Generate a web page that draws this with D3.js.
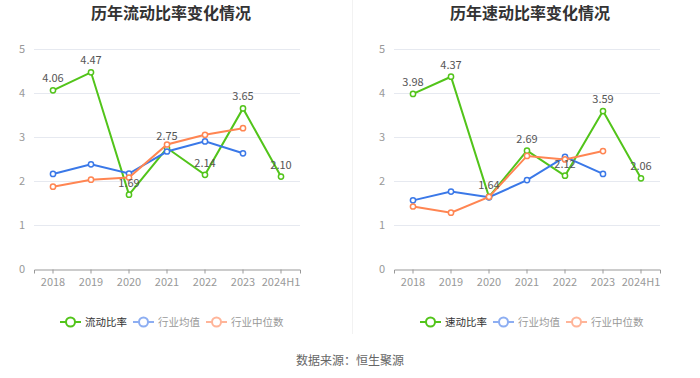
<!DOCTYPE html>
<html>
<head>
<meta charset="utf-8">
<script src="https://cdn.jsdelivr.net/npm/d3@7"></script>
<style>
  body { margin: 0; background: #fff; }
  svg { font-family: "Noto Sans CJK SC", "Noto Sans", sans-serif; }
</style>
</head>
<body>
<div id="chart"></div>
<script>
const years = ['2018', '2019', '2020', '2021', '2022', '2023', '2024H1'];
const yTicks = [0, 1, 2, 3, 4, 5];

// 流动比率
const currentRatio = [4.06, 4.47, 1.69, 2.75, 2.14, 3.65, 2.10];
const currentAvg = [2.16, 2.38, 2.17, 2.67, 2.90, 2.63];
const currentMedian = [1.87, 2.03, 2.08, 2.83, 3.05, 3.20];

// 速动比率
const quickRatio = [3.98, 4.37, 1.64, 2.69, 2.12, 3.59, 2.06];
const quickAvg = [1.56, 1.76, 1.63, 2.02, 2.55, 2.16];
const quickMedian = [1.42, 1.28, 1.64, 2.57, 2.49, 2.68];

const width = 700;
const height = 378;

const green = '#52c41a';
const blue = '#3a78e8';
const orange = '#ff8552';

const svg = d3.select('#chart')
  .append('svg')
  .attr('width', width)
  .attr('height', height);

// divider between the two charts
svg.append('line')
  .attr('x1', 352.5).attr('x2', 352.5)
  .attr('y1', 0).attr('y2', 334)
  .attr('stroke', '#f2f2f2');

function drawChart(opts) {
  const g = svg.append('g');

  const x = d3.scaleBand()
    .domain(years)
    .range([opts.left, opts.right]);

  const y = d3.scaleLinear()
    .domain([0, 5])
    .range([269, 49]);

  // title
  g.append('text')
    .attr('x', opts.titleX)
    .attr('y', 19)
    .attr('text-anchor', 'middle')
    .style('font-size', '16px')
    .style('font-weight', 'bold')
    .style('fill', '#333')
    .text(opts.title);

  // grid lines
  g.selectAll('.grid')
    .data(yTicks.filter(d => d > 0))
    .join('line')
    .attr('x1', opts.left).attr('x2', opts.right)
    .attr('y1', d => Math.round(y(d)) + 0.5)
    .attr('y2', d => Math.round(y(d)) + 0.5)
    .attr('stroke', '#e6e9f0');

  // y labels
  g.selectAll('.ylab')
    .data(yTicks)
    .join('text')
    .attr('x', opts.left - 9)
    .attr('y', d => y(d) + 4)
    .attr('text-anchor', 'end')
    .style('font-size', '11px')
    .style('fill', '#999')
    .text(d => d);

  // x axis
  const xAxis = g.append('g')
    .attr('transform', 'translate(0,269.5)')
    .call(d3.axisBottom(x).tickSize(4).tickPadding(5));
  xAxis.select('.domain').attr('stroke', '#999');
  xAxis.selectAll('.tick line').attr('stroke', '#999');
  xAxis.selectAll('.tick text')
    .style('font-size', '11px')
    .style('fill', '#999')
    .style('font-family', '"Noto Sans CJK SC", "Noto Sans", sans-serif');

  const cx = (d, i) => x(years[i]) + x.bandwidth() / 2;

  const line = d3.line()
    .x(cx)
    .y(d => y(d));

  const series = [
    { data: opts.main, color: green },
    { data: opts.avg, color: blue },
    { data: opts.median, color: orange }
  ];

  series.forEach(s => {
    g.append('path')
      .datum(s.data)
      .attr('d', line)
      .attr('fill', 'none')
      .attr('stroke', s.color)
      .attr('stroke-width', 2);
    g.selectAll(null)
      .data(s.data)
      .join('circle')
      .attr('cx', cx)
      .attr('cy', d => y(d))
      .attr('r', 2.6)
      .attr('fill', '#fff')
      .attr('stroke', s.color)
      .attr('stroke-width', 1.5);
  });

  // data labels on main series
  g.selectAll('.lab')
    .data(opts.main)
    .join('text')
    .attr('x', cx)
    .attr('y', d => y(d) - 8)
    .attr('text-anchor', 'middle')
    .style('font-size', '11px')
    .style('fill', '#555')
    .text(d => d.toFixed(2));

  // legend
  const legendItems = [
    { name: opts.name, color: green, text: '#333' },
    { name: '行业均值', color: '#8daef2', text: '#999' },
    { name: '行业中位数', color: '#ffb599', text: '#999' }
  ];
  const legend = g.append('g').attr('transform', 'translate(0,322)');
  let lx = opts.legendX;
  legendItems.forEach(item => {
    legend.append('line')
      .attr('x1', lx).attr('x2', lx + 21)
      .attr('y1', 0).attr('y2', 0)
      .attr('stroke', item.color)
      .attr('stroke-width', 2);
    legend.append('circle')
      .attr('cx', lx + 10.5).attr('cy', 0)
      .attr('r', 4.5)
      .attr('fill', '#fff')
      .attr('stroke', item.color)
      .attr('stroke-width', 2);
    const t = legend.append('text')
      .attr('x', lx + 25)
      .attr('y', 4)
      .style('font-size', '10.5px')
      .style('fill', item.text)
      .text(item.name);
    lx += 25 + t.node().getComputedTextLength() + 6;
  });
}

drawChart({
  title: '历年流动比率变化情况',
  name: '流动比率',
  titleX: 171,
  left: 34,
  right: 300,
  legendX: 60,
  main: currentRatio,
  avg: currentAvg,
  median: currentMedian
});

drawChart({
  title: '历年速动比率变化情况',
  name: '速动比率',
  titleX: 530,
  left: 394,
  right: 660,
  legendX: 420,
  main: quickRatio,
  avg: quickAvg,
  median: quickMedian
});

svg.append('text')
  .attr('x', 350)
  .attr('y', 365)
  .attr('text-anchor', 'middle')
  .style('font-size', '12px')
  .style('fill', '#666')
  .text('数据来源：恒生聚源');
</script>
</body>
</html>
